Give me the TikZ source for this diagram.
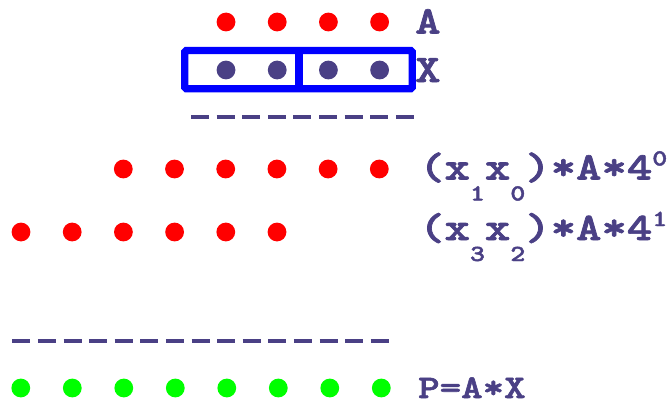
\documentclass[tikz,border=0pt]{standalone}
\usepackage{graphicx}
\usepackage{fontspec}
\newfontfamily\courf{lmmonolt10-bold}[Extension=.otf,FakeBold=1.6]
\definecolor{ink}{RGB}{74,64,133}
\definecolor{dred}{RGB}{255,0,0}
\definecolor{dgreen}{RGB}{0,255,0}
\definecolor{dblue}{RGB}{0,0,255}
\newcommand{\bigf}{\fontsize{39}{39}\selectfont\courf}
\newcommand{\midf}{\fontsize{33}{33}\selectfont\courf}
\newcommand{\smallf}{\fontsize{23}{23}\selectfont\courf}
\newcommand{\lsub}[1]{\raisebox{-21pt}{\smallf #1}}
\newcommand{\lsup}[1]{\raisebox{14pt}{\smallf #1}}
\newcommand{\wide}[1]{\scalebox{1.24}[1]{#1}}
\begin{document}
\begin{tikzpicture}[x=1pt,y=-1pt,
  dot/.style={circle,inner sep=0pt,minimum size=18.8pt,draw=none},
  reddot/.style={dot,fill=dred},
  inkdot/.style={dot,fill=ink},
  greendot/.style={dot,fill=dgreen},
  lbl/.style={anchor=base west,inner sep=0pt,text=ink},
  boxline/.style={draw=dblue,line width=7.2pt},
  rule/.style={draw=ink,line width=3.7pt,dash pattern=on 18pt off 7.6pt}]
\useasboundingbox (0,0) rectangle (669,404);
% row A
\foreach \i in {0,...,3}{\node[reddot] (a\i) at (226+51.2*\i,22) {};}
% row X
\foreach \i in {0,...,3}{\node[inkdot] (x\i) at (226+51.2*\i,70) {};}
\draw[boxline,rounded corners=1.5pt] (184.7,50.5) rectangle (412.2,88.8);
\draw[boxline] (299,50.5) -- (299,88.8);
% first rule
\coordinate (r1s) at (191,117);
\coordinate (r1e) at (414,117);
\draw[rule] (r1s) -- (r1e);
% partial products
\foreach \i in {0,...,5}{\node[reddot] (p\i) at (123.3+51.2*\i,169) {};}
\foreach \i in {0,...,5}{\node[reddot] (q\i) at (21+51.2*\i,232) {};}
% second rule
\coordinate (r2s) at (12.3,340.7);
\coordinate (r2e) at (390,340.7);
\draw[rule] (r2s) -- (r2e);
% result
\foreach \i in {0,...,7}{\node[greendot] (g\i) at (20.8+51.5*\i,388) {};}
% labels
\node[lbl] (la) at (415,33.5) {\wide{\bigf A}};
\node[lbl] (lx) at (415,82) {\wide{\bigf X}};
\node[lbl] (l0) at (419,179.5) {\wide{\bigf (x\lsub{1}x\lsub{0})*A*4\lsup{0}}};
\node[lbl] (l1) at (419,240) {\wide{\bigf (x\lsub{3}x\lsub{2})*A*4\lsup{1}}};
\node[lbl] (lp) at (418,398) {\wide{\midf P=A*X}};
\end{tikzpicture}
\end{document}
